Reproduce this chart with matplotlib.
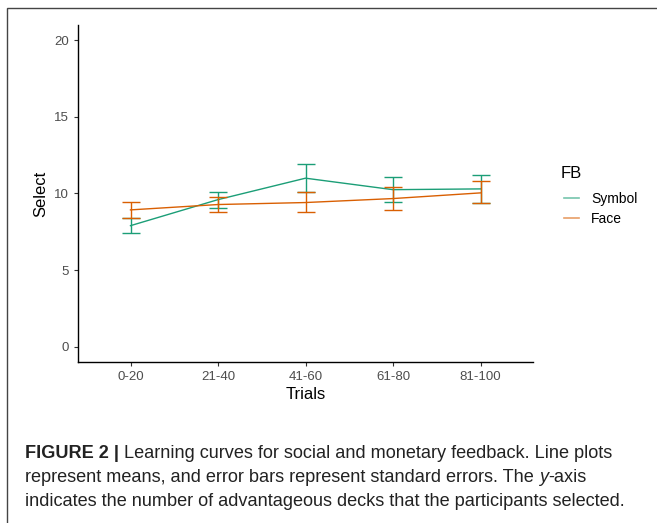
import matplotlib
matplotlib.use('Agg')
import matplotlib.pyplot as plt
from matplotlib.lines import Line2D
from matplotlib.patches import Rectangle

plt.rcParams['font.family'] = ['Liberation Sans', 'DejaVu Sans']

# data
trials = ['0-20', '21-40', '41-60', '61-80', '81-100']
symbol_mean = [7.9, 9.6, 11.0, 10.25, 10.3]
symbol_lo = [7.4, 9.07, 10.13, 9.43, 9.37]
symbol_hi = [8.43, 10.1, 11.9, 11.07, 11.22]
face_mean = [8.93, 9.28, 9.41, 9.67, 10.04]
face_lo = [8.43, 8.8, 8.76, 8.93, 9.37]
face_hi = [9.43, 9.78, 10.07, 10.41, 10.8]

colors = {'Symbol': '#1B9E77', 'Face': '#D95F02'}

W, H = 657, 523
fig = plt.figure(figsize=(W / 100, H / 100), dpi=100)

# outer frame of the figure panel
fig.add_artist(Rectangle((7 / W, -0.1), 1.2, 1 - 8 / H + 0.1, transform=fig.transFigure,
                         fill=False, edgecolor='#444444', linewidth=1.0))

ax = fig.add_axes([78 / W, 1 - 362 / H, 455 / W, 337 / H])
x = list(range(1, len(trials) + 1))

for name, mean, lo, hi in [('Symbol', symbol_mean, symbol_lo, symbol_hi),
                           ('Face', face_mean, face_lo, face_hi)]:
    c = colors[name]
    ax.plot(x, mean, color=c, linewidth=1.0)
    yerr = [[m - l for m, l in zip(mean, lo)], [h - m for m, h in zip(mean, hi)]]
    ax.errorbar(x, mean, yerr=yerr, fmt='none', ecolor=c, elinewidth=1.0,
                capsize=6.3, capthick=1.0)

ax.set_xlim(0.4, 5.6)
ax.set_ylim(-1, 21)
ax.set_xticks(x)
ax.set_xticklabels(trials)
ax.set_yticks([0, 5, 10, 15, 20])
ax.tick_params(colors='#333333', labelcolor='#4D4D4D', labelsize=9.5, length=3, width=0.8)
for s in ['top', 'right']:
    ax.spines[s].set_visible(False)
for s in ['left', 'bottom']:
    ax.spines[s].set_linewidth(1.0)
    ax.spines[s].set_color('black')
ax.set_xlabel('Trials', fontsize=12, labelpad=3)
ax.set_ylabel('Select', fontsize=12, labelpad=4)

# legend
fig.text(561 / W, 1 - 173 / H, 'FB', fontsize=12, va='center', ha='left')
handles = [Line2D([], [], color=colors[k], alpha=0.6, linewidth=1.2) for k in ['Symbol', 'Face']]
fig.legend(handles, ['Symbol', 'Face'], loc='upper left',
           bbox_to_anchor=(551 / W, 1 - 179 / H), frameon=False,
           fontsize=10, handlelength=1.1, handletextpad=0.9, labelspacing=0.45)

# caption with mixed styles
fig.canvas.draw()
renderer = fig.canvas.get_renderer()


def put_line(parts, x0, y0, size=13.1):
    xp = x0
    for txt, kw in parts:
        t = fig.text(xp / W, 1 - y0 / H, txt, fontsize=size, va='baseline', ha='left',
                     color='#222222', **kw)
        xp += t.get_window_extent(renderer).width


put_line([('FIGURE 2 | ', {'fontweight': 'bold'}),
          ('Learning curves for social and monetary feedback. Line plots', {})], 25, 458)
put_line([('represent means, and error bars represent standard errors. The ', {}),
          ('y', {'fontstyle': 'italic'}), ('-axis', {})], 25, 482)
put_line([('indicates the number of advantageous decks that the participants selected.', {})],
         25, 506)

fig.savefig('out.png', dpi=100)
